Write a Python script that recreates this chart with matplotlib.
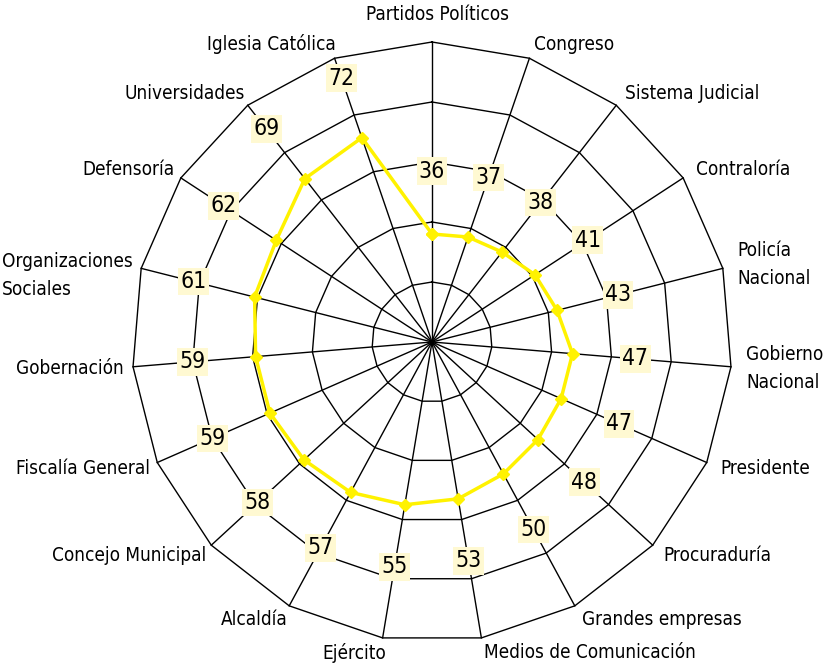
import numpy as np
import matplotlib
matplotlib.use('Agg')
import matplotlib.pyplot as plt
from matplotlib.transforms import offset_copy

plt.rcParams['font.family'] = ['DejaVu Sans']
plt.rcParams['font.stretch'] = 'condensed'

# categories clockwise from the top
categories = ['Partidos Políticos', 'Congreso', 'Sistema Judicial', 'Contraloría',
              'Policía\nNacional', 'Gobierno\nNacional', 'Presidente', 'Procuraduría',
              'Grandes empresas', 'Medios de Comunicación', 'Ejército', 'Alcaldía',
              'Concejo Municipal', 'Fiscalía General', 'Gobernación',
              'Organizaciones\nSociales', 'Defensoría', 'Universidades', 'Iglesia Católica']
values = [36, 37, 38, 41, 43, 47, 47, 48, 50, 53, 55, 57, 58, 59, 59, 61, 62, 69, 72]
rings = [20, 40, 60, 80, 100]

n = len(categories)
angles = np.linspace(0, 2 * np.pi, n, endpoint=False)
closed = np.append(angles, angles[0])

fig = plt.figure(figsize=(8.24, 6.63), dpi=100)
ax = fig.add_axes([132 / 824, 21 / 663, 600 / 824, 600 / 663], projection='polar')
ax.set_theta_zero_location('N')
ax.set_theta_direction(-1)
ax.set_ylim(0, 100)
ax.axis('off')

### polygon grid and spokes
for r in rings:
    ax.plot(closed, [r] * (n + 1), color='black', lw=1, clip_on=False, zorder=1)
for a in angles:
    ax.plot([a, a], [0, rings[-1]], color='black', lw=1, clip_on=False, zorder=1)

### data
ax.plot(closed, values + values[:1], color='#FFF200', lw=2.5, marker='D',
        markersize=6, clip_on=False, zorder=3)

for a, v in zip(angles, values):
    ax.text(a, v + 21, str(v), ha='center', va='center', fontsize=16.5, zorder=4,
            bbox=dict(boxstyle='square,pad=0.1', facecolor='#FFF9D2', edgecolor='none'))

### category labels
for a, lab in zip(angles, categories):
    s = np.sin(a)
    dx, dy = 0, 0
    if abs(s) < 0.05:
        ha, r, dx = 'center', 109, 6
    elif s > 0:
        ha, r = 'left', 105
    else:
        ha, r, dx = 'right', 105, 6
    if lab.startswith('Organizaciones'):
        dy = -11
    tr = offset_copy(ax.transData, fig=fig, x=dx, y=dy, units='dots')
    ax.text(a, r, lab, ha=ha, va='center', fontsize=13.6, multialignment='left',
            linespacing=1.6, transform=tr)

fig.savefig('out.png', dpi=100)
